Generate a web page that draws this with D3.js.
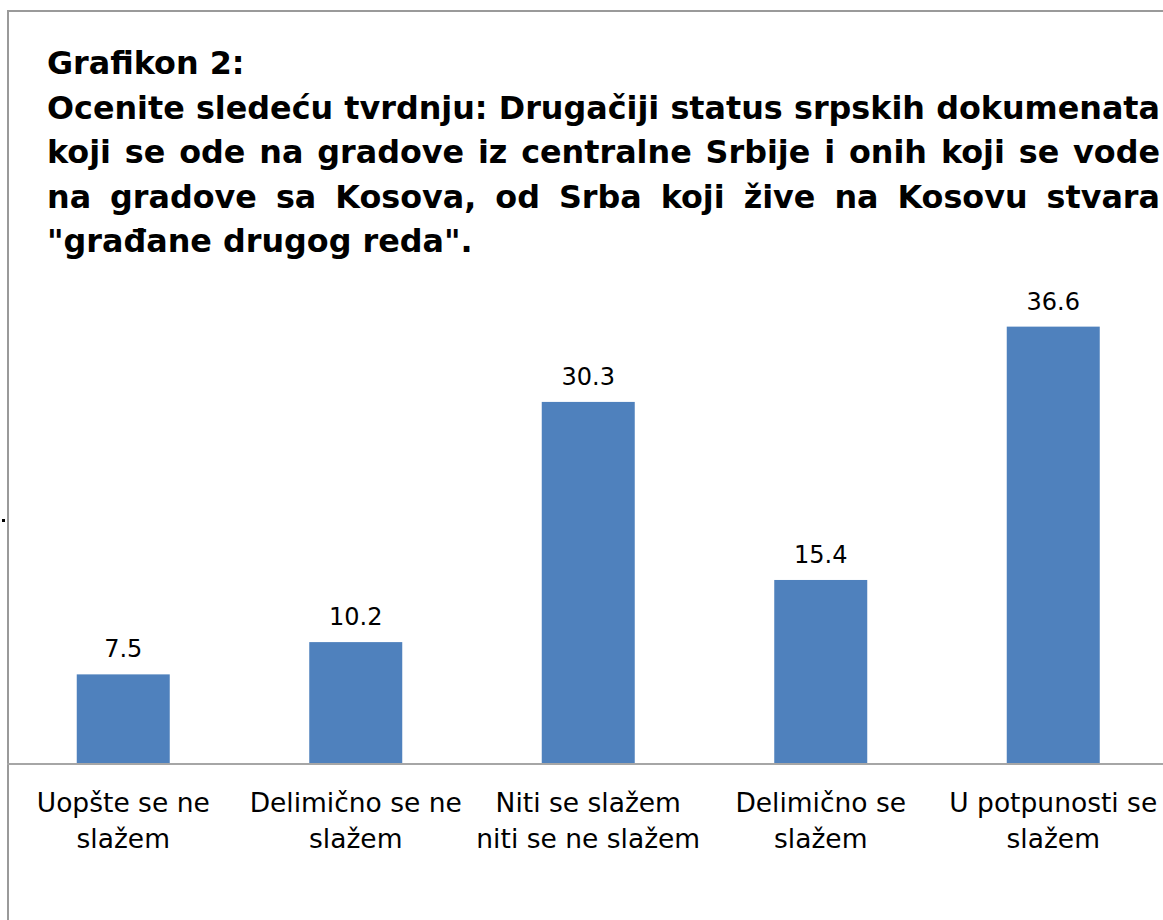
<!DOCTYPE html>
<html>
<head>
<meta charset="utf-8">
<script src="https://cdn.jsdelivr.net/npm/d3@7"></script>
<style>
  body { margin: 0; background: #fff; }
  svg { display: block; }
</style>
</head>
<body>
<div id="chart"></div>
<script>
const categories = [
  ["Uopšte se ne", "slažem"],
  ["Delimično se ne", "slažem"],
  ["Niti se slažem", "niti se ne slažem"],
  ["Delimično se", "slažem"],
  ["U potpunosti se", "slažem"]
];
const values = [7.5, 10.2, 30.3, 15.4, 36.6];
const titleLines = [
  "Grafikon 2:",
  "Ocenite sledeću tvrdnju: Drugačiji status srpskih dokumenata",
  "koji se ode na gradove iz centralne Srbije i onih koji se vode",
  "na gradove sa Kosova, od Srba koji žive na Kosovu stvara",
  "\"građane drugog reda\"."
];

const width = 1163, height = 920;
const margin = { top: 286, right: 0, bottom: 156, left: 7 };

const svg = d3.select('#chart')
  .append('svg')
  .attr('width', width)
  .attr('height', height);

// frame
svg.append('path')
  .attr('d', `M8,${height} L8,11 L${width},11`)
  .attr('fill', 'none')
  .attr('stroke', '#9a9a9a')
  .attr('stroke-width', 2);

svg.append('rect')
  .attr('x', 2).attr('y', 519).attr('width', 3).attr('height', 3)
  .attr('fill', '#000');

const x = d3.scaleBand()
  .domain(d3.range(values.length))
  .range([margin.left, margin.left + 5 * 232.5])
  .paddingInner(0.6)
  .paddingOuter(0.3);

const y = d3.scaleLinear()
  .domain([0, 40])
  .range([height - margin.bottom, margin.top]);

// title, justified like the original
const titleFont = "'DejaVu Sans', sans-serif";
const titleLeft = 47, titleRight = 1160;

// fit the font so the first long line fills the block with normal spacing
const probe = svg.append('text')
  .attr('font-family', titleFont)
  .attr('font-weight', 'bold')
  .attr('font-size', 30)
  .text(titleLines[1]);
const natural = probe.node().getComputedTextLength();
probe.remove();
const titleSize = Math.min(33, 30 * (titleRight - titleLeft) / natural);

titleLines.forEach((line, i) => {
  const g = svg.append('g')
    .attr('font-family', titleFont)
    .attr('font-weight', 'bold')
    .attr('font-size', titleSize)
    .attr('fill', '#000');
  const yy = 74 + i * 44.5;
  const justify = i > 0 && i < titleLines.length - 1;
  if (!justify) {
    g.append('text').attr('x', titleLeft).attr('y', yy).text(line);
    return;
  }
  const words = line.split(' ');
  const nodes = words.map(w => g.append('text').attr('y', yy).text(w));
  const widths = nodes.map(n => n.node().getComputedTextLength());
  const gap = (titleRight - titleLeft - d3.sum(widths)) / (words.length - 1);
  let cx = titleLeft;
  nodes.forEach((n, k) => {
    n.attr('x', cx);
    cx += widths[k] + gap;
  });
});

// bars
svg.append('g')
  .selectAll('rect')
  .data(values)
  .join('rect')
  .attr('x', (d, i) => x(i))
  .attr('y', d => y(d))
  .attr('width', x.bandwidth())
  .attr('height', d => y(0) - y(d))
  .attr('fill', '#4f81bd');

// value labels
svg.append('g')
  .selectAll('text')
  .data(values)
  .join('text')
  .attr('x', (d, i) => x(i) + x.bandwidth() / 2)
  .attr('y', d => y(d) - 17)
  .attr('text-anchor', 'middle')
  .attr('font-family', "'DejaVu Sans', sans-serif")
  .attr('font-size', 24)
  .attr('fill', '#000')
  .text(d => d.toFixed(1));

// x axis
const xAxis = svg.append('g')
  .attr('transform', `translate(0,${y(0)})`)
  .call(d3.axisBottom(x).tickSize(0).tickFormat(''));
xAxis.select('.domain')
  .attr('d', `M${margin.left},0H${width}`)
  .attr('stroke', '#a6a6a6')
  .attr('stroke-width', 2);

const labels = svg.append('g')
  .selectAll('text')
  .data(categories)
  .join('text')
  .attr('text-anchor', 'middle')
  .attr('font-family', "'DejaVu Sans', sans-serif")
  .attr('font-size', 26.5)
  .attr('fill', '#000');
labels.selectAll('tspan')
  .data((d, i) => d.map(t => ({ t, i })))
  .join('tspan')
  .attr('x', d => x(d.i) + x.bandwidth() / 2)
  .attr('y', (d, k) => y(0) + 48 + k * 36)
  .text(d => d.t);
</script>
</body>
</html>
